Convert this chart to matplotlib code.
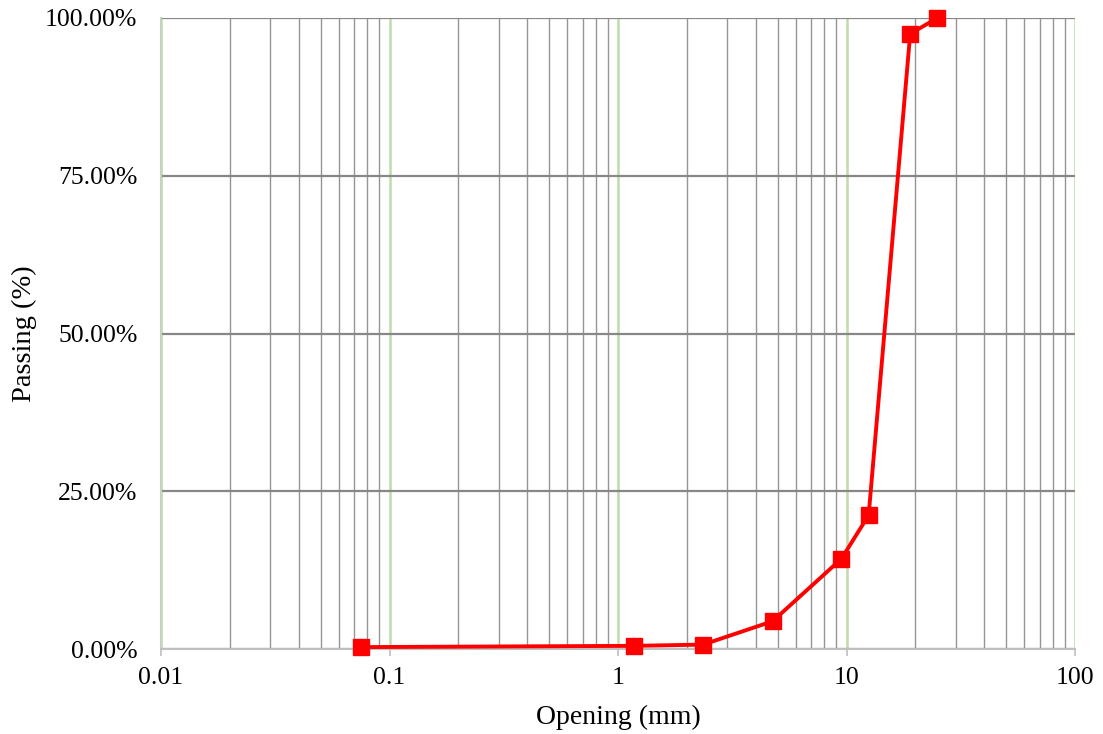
import matplotlib
matplotlib.use("Agg")
import matplotlib.pyplot as plt
from matplotlib.ticker import FixedLocator, FuncFormatter, LogLocator, NullFormatter
import numpy as np

# Data
opening_mm = [0.075, 1.18, 2.36, 4.75, 9.5, 12.5, 19.0, 25.0]
passing_pct = [0.3, 0.5, 0.7, 4.4, 14.3, 21.2, 97.5, 100.0]
x_ticks = [0.01, 0.1, 1, 10, 100]
x_tick_labels = ["0.01", "0.1", "1", "10", "100"]
y_ticks = [0, 25, 50, 75, 100]

plt.rcParams['font.family'] = ['Liberation Serif', 'DejaVu Serif']

fig = plt.figure(figsize=(11.03, 7.34), dpi=100)
ax = fig.add_axes([161/1103, 1 - 649/734, (1075-161)/1103, (649-18)/734])

ax.set_xscale('log')
ax.set_xlim(0.01, 100)
ax.set_ylim(0, 100)

# Minor vertical gridlines (gray)
ax.xaxis.set_minor_locator(LogLocator(base=10, subs=np.arange(2, 10)))
ax.xaxis.set_minor_formatter(NullFormatter())
ax.grid(True, which='minor', axis='x', color='#959595', linewidth=1.0)
# Major vertical gridlines (light green)
ax.xaxis.set_major_locator(FixedLocator(x_ticks))
ax.set_xticklabels(x_tick_labels)
ax.grid(True, which='major', axis='x', color='#bfdcab', linewidth=1.8)
# Horizontal gridlines
ax.yaxis.set_major_locator(FixedLocator(y_ticks))
ax.yaxis.set_major_formatter(FuncFormatter(lambda v, p: f"{v:.2f}%"))
ax.grid(True, which='major', axis='y', color='#878787', linewidth=1.6)
ax.set_axisbelow(True)

for s in ['top', 'right']:
    ax.spines[s].set_visible(False)
ax.spines['left'].set_color('#c4d4bc')
ax.spines['left'].set_linewidth(1.5)
ax.spines['bottom'].set_color('#bfbfbf')
ax.spines['bottom'].set_linewidth(1.5)

ax.tick_params(axis='x', which='major', length=5, color='#bfbfbf', width=1.2,
               labelsize=18.5, pad=8)
ax.tick_params(axis='x', which='minor', length=0)
ax.tick_params(axis='y', which='major', length=0, labelsize=18.5, pad=17)

ax.plot(opening_mm, passing_pct, color='#ff0000', linewidth=2.8,
        marker='s', markersize=11, markerfacecolor='#ff0000',
        markeredgecolor='#ff0000', clip_on=False, zorder=5)

ax.set_xlabel('Opening (mm)', fontsize=20)
ax.set_ylabel('Passing (%)', fontsize=20.5)
ax.yaxis.set_label_coords(-(161-24)/914, 0.5)
ax.xaxis.set_label_coords(0.5, -(717-649)/631)
ax.xaxis.label.set_verticalalignment('center')
ax.yaxis.label.set_verticalalignment('center')

fig.savefig('out.png', dpi=100)
